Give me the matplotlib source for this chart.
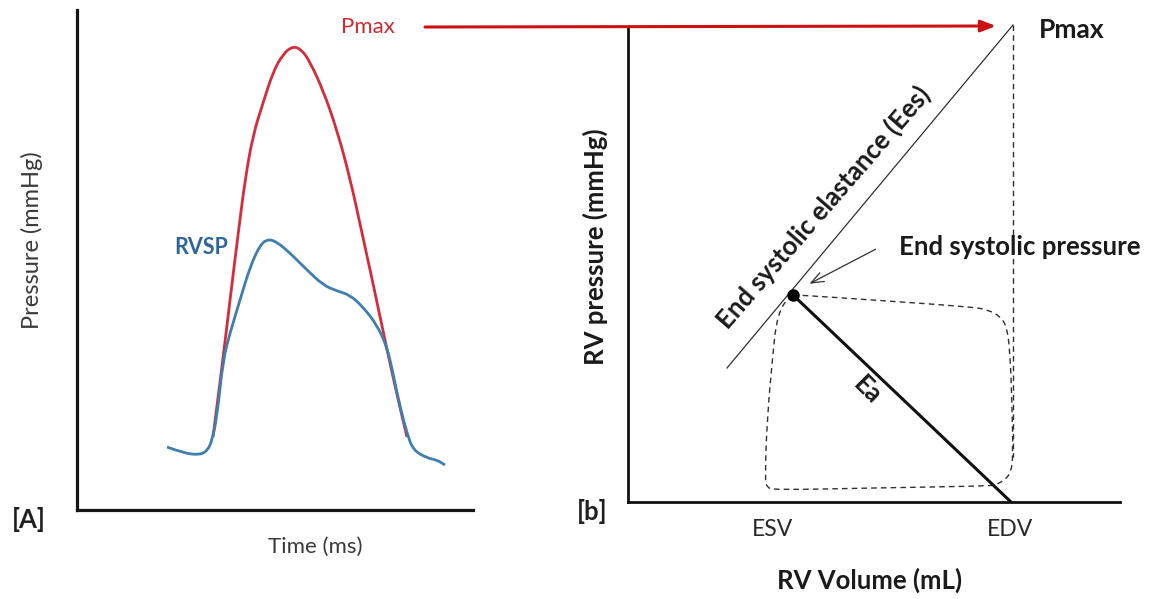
import matplotlib
matplotlib.use('Agg')
import matplotlib.pyplot as plt
from matplotlib.patches import ConnectionPatch, PathPatch
from matplotlib.path import Path

plt.rcParams['font.family'] = ['Lato', 'DejaVu Sans']

# === Panel A: RV pressure waveform (time in ms, pressure in mmHg, arbitrary scale) ===
pmax_time = [136, 145, 153, 161, 168, 176, 186, 196, 206, 216, 225, 233,
             246, 260, 273, 285, 297, 309, 320, 330]
pmax_pres = [14.6, 28.6, 42.0, 55.0, 66.0, 75.0, 81.4, 87.6, 91.2, 92.8,
             92.0, 89.6, 84.0, 76.0, 66.4, 55.4, 44.4, 33.0, 23.0, 14.6]

rvsp_time = [90, 106, 123, 131, 135, 140, 146, 153, 163, 173, 183, 191, 200,
             213, 230, 246, 260, 273, 286, 300, 310, 316, 323, 330, 336, 350,
             360, 368]
rvsp_pres = [12.6, 11.4, 11.0, 12.0, 14.0, 18.6, 30.0, 35.4, 42.0, 48.6, 53.0,
             54.2, 53.6, 51.4, 48.0, 45.0, 43.8, 43.0, 40.6, 37.0, 32.6, 27.4,
             20.6, 15.4, 12.0, 10.4, 10.0, 9.0]

# === Panel B: pressure-volume loop (arbitrary units) ===
loop_vol = [165, 170, 245, 345, 360, 372, 379, 382, 384, 385, 383, 377, 367,
            359, 245, 145, 139, 137, 139, 145, 148, 153, 159, 165]
loop_pres = [207, 207, 202, 195, 192, 186, 175, 149, 99, 45, 30, 22, 17, 16,
             14, 12, 15, 22, 82, 149, 177, 194, 202, 207]

esp_vol, esp_pres = 165, 207          # end systolic point
edv_vol = 385                          # end diastolic volume
esv_vol = 145
espvr_vol = [99, 385]
espvr_pres = [134, 477]
ea_vol = [165, 383]
ea_pres = [207, 0]
pmax_level = 476


def smooth_patch(ax, xs, ys, **kw):
    # quadratic bezier through the midpoints, the read points act as controls
    verts = [(xs[0], ys[0])]
    codes = [Path.MOVETO]
    for i in range(1, len(xs) - 1):
        verts.append((xs[i], ys[i]))
        verts.append(((xs[i] + xs[i + 1]) / 2, (ys[i] + ys[i + 1]) / 2))
        codes += [Path.CURVE3, Path.CURVE3]
    verts.append((xs[-1], ys[-1]))
    codes.append(Path.LINETO)
    patch = PathPatch(Path(verts, codes), fill=False, **kw)
    ax.add_patch(patch)
    return patch


fig = plt.figure(figsize=(11.61, 5.99), dpi=100)
W, H = 1161, 599
BOLD = 18.5

# left panel
axA = fig.add_axes([77 / W, (H - 510) / H, (473 - 77) / W, (510 - 10) / H])
axA.set_xlim(0, 396)
axA.set_ylim(0, 100)
for s in ['top', 'right']:
    axA.spines[s].set_visible(False)
for s in ['left', 'bottom']:
    axA.spines[s].set_linewidth(2.3)
    axA.spines[s].set_color('#151515')
axA.set_xticks([])
axA.set_yticks([])

smooth_patch(axA, pmax_time, pmax_pres, edgecolor='#d42c3a', lw=2.0)
smooth_patch(axA, rvsp_time, rvsp_pres, edgecolor='#3f7fb0', lw=2.0)

axA.text(124, 52.4, 'RVSP', color='#2f6699', fontsize=15.5, fontweight='bold',
         ha='center', va='center')
axA.text(291, 96.6, 'Pmax', color='#cc2a32', fontsize=16,
         ha='center', va='center', clip_on=False)
axA.text(-48, -2, '[A]', color='#202020', fontsize=BOLD, fontweight='bold',
         ha='center', va='center', clip_on=False)
axA.text(238, -7.4, 'Time (ms)', color='#3a3a3a', fontsize=16,
         ha='center', va='center', clip_on=False)
axA.text(-45, 54, 'Pressure (mmHg)', color='#3a3a3a', fontsize=17,
         rotation=90, ha='center', va='center', clip_on=False)

# right panel
axB = fig.add_axes([628 / W, (H - 502) / H, (1120 - 628) / W, (502 - 28) / H])
axB.set_xlim(0, 492)
axB.set_ylim(0, 474)
for s in ['top', 'right']:
    axB.spines[s].set_visible(False)
for s in ['left', 'bottom']:
    axB.spines[s].set_linewidth(2.0)
    axB.spines[s].set_color('#101010')
axB.set_yticks([])
axB.set_xticks([esv_vol, edv_vol - 3], ['ESV', 'EDV'])
axB.tick_params(axis='x', length=0, pad=12, labelsize=16.5, labelcolor='#2a2a2a')

axB.plot(espvr_vol, espvr_pres, color='#303030', lw=0.9, clip_on=False)
axB.plot([edv_vol, edv_vol], [pmax_level + 1, 45], color='#303030', lw=1.0,
         ls=(0, (4, 3)), clip_on=False)
smooth_patch(axB, loop_vol, loop_pres, edgecolor='#303030', lw=1.0,
             ls=(0, (4, 3)))
axB.plot(ea_vol, ea_pres, color='#111111', lw=2.2)
axB.plot([esp_vol], [esp_pres], 'o', color='black', ms=8)

axB.annotate('', xy=(179, 217), xytext=(250, 254),
             arrowprops=dict(arrowstyle='->,head_length=0.9,head_width=0.35',
                             color='#303030', lw=0.9))
axB.text(392, 255, 'End systolic pressure', fontsize=BOLD, fontweight='bold',
         color='#1a1a1a', ha='center', va='center')
axB.text(195, 295, 'End systolic elastance (Ees)', fontsize=BOLD,
         fontweight='bold', color='#1a1a1a', rotation=49,
         rotation_mode='anchor', ha='center', va='center')
axB.text(239, 112, 'Ea', fontsize=BOLD, fontweight='bold', color='#1a1a1a',
         rotation=-45, rotation_mode='anchor', ha='center', va='center')
axB.text(444, 472, 'Pmax', fontsize=BOLD + 0.5, fontweight='bold', color='#1a1a1a',
         ha='center', va='center', clip_on=False)
axB.text(-36, -10, '[b]', fontsize=BOLD, fontweight='bold', color='#202020',
         ha='center', va='center', clip_on=False)
axB.text(242, -78, 'RV Volume (mL)', fontsize=BOLD, fontweight='bold',
         color='#1a1a1a', ha='center', va='center', clip_on=False)
axB.text(-33, 255, 'RV pressure (mmHg)', fontsize=BOLD, fontweight='bold',
         color='#1a1a1a', rotation=90, ha='center', va='center', clip_on=False)

# red arrow linking the two Pmax values
con = ConnectionPatch(xyA=(348, 96.6), coordsA=axA.transData,
                      xyB=(368, pmax_level), coordsB=axB.transData,
                      arrowstyle='-|>,head_length=0.9,head_width=0.35',
                      color='#cc1111', lw=2.2)
fig.add_artist(con)

fig.savefig('out.png', dpi=100)
